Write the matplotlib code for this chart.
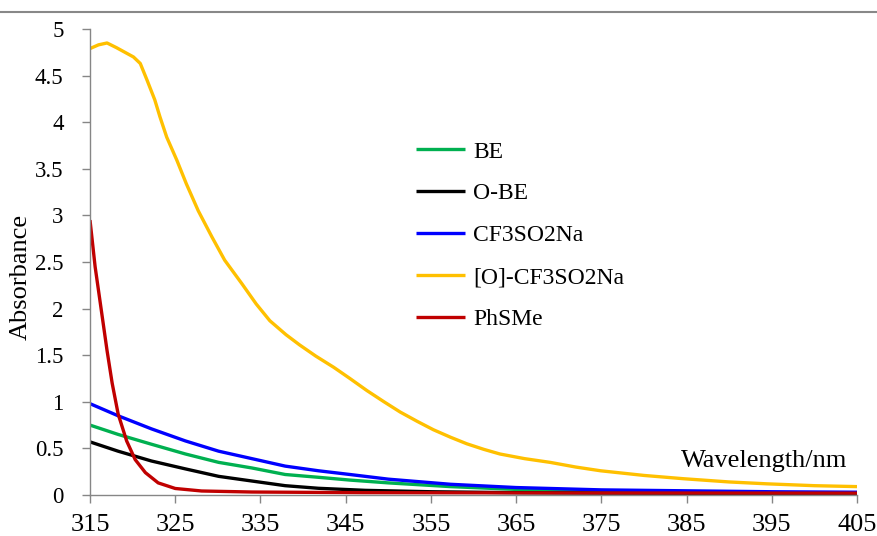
import numpy as np
import matplotlib.pyplot as plt
from matplotlib.lines import Line2D

plt.rcParams['font.family'] = ['Liberation Serif', 'DejaVu Serif']

# absorbance spectra, wavelength in nm
wl_o_cf = [315, 316, 317, 318.1, 319.1, 320.1, 320.9, 321.7, 322.6, 323.2, 324, 325.2,
           326.3, 327.7, 329.3, 330.8, 332.8, 334.5, 336.1, 338, 339.6, 341.5, 343.6,
           345.5, 347.5, 349.5, 351.4, 353.4, 355.3, 357.3, 359.2, 361.2, 363.1, 366,
           369, 372, 374.9, 380, 384.6, 390, 394.4, 400, 405]
abs_o_cf = [4.79, 4.83, 4.85, 4.80, 4.75, 4.70, 4.63, 4.45, 4.24, 4.06, 3.84, 3.59,
            3.34, 3.05, 2.77, 2.52, 2.27, 2.05, 1.87, 1.72, 1.61, 1.49, 1.37,
            1.25, 1.12, 1.00, 0.89, 0.79, 0.70, 0.62, 0.55, 0.49, 0.44, 0.39,
            0.35, 0.30, 0.26, 0.21, 0.175, 0.14, 0.12, 0.10, 0.09]

wl_phsme = [315, 315.6, 316.3, 317, 317.6, 318.3, 319.3, 320.3, 321.5, 323, 325,
            328.1, 334, 347, 370, 405]
abs_phsme = [2.95, 2.45, 2.0, 1.55, 1.2, 0.87, 0.58, 0.38, 0.24, 0.13, 0.07,
             0.043, 0.032, 0.025, 0.022, 0.02]

wl_cf = [315, 318.3, 322.2, 326.2, 330.1, 334, 337.9, 341.8, 345.5, 350, 357.3, 365,
         375, 385, 395, 405]
abs_cf = [0.98, 0.85, 0.71, 0.58, 0.47, 0.39, 0.31, 0.26, 0.22, 0.17, 0.115, 0.08,
          0.055, 0.045, 0.035, 0.03]

wl_be = [315, 318.3, 322.2, 326.2, 330.1, 334, 337.9, 341.8, 345.5, 350, 357.3, 365,
         375, 385, 395, 405]
abs_be = [0.75, 0.65, 0.545, 0.44, 0.35, 0.29, 0.22, 0.19, 0.16, 0.13, 0.09, 0.06,
          0.04, 0.03, 0.025, 0.02]

wl_obe = [315, 318.3, 322.2, 326.2, 330.1, 334, 337.9, 341.8, 347.3, 355, 365, 375,
          385, 395, 405]
abs_obe = [0.57, 0.47, 0.365, 0.28, 0.20, 0.15, 0.10, 0.072, 0.05, 0.035, 0.025, 0.02,
           0.018, 0.016, 0.015]

labels = ['BE', 'O-BE', 'CF3SO2Na', '[O]-CF3SO2Na', 'PhSMe']
colors = ['#00B050', '#000000', '#0000FF', '#FFC000', '#C00000']

fig = plt.figure(figsize=(8.77, 5.36), dpi=100)
ax = fig.add_axes([90/877, 1-495/536, 767/877, 466/536])

lw = 2.4
kw = dict(lw=lw, solid_joinstyle='round', solid_capstyle='butt')
ax.plot(wl_be, abs_be, color=colors[0], label=labels[0], **kw)
ax.plot(wl_obe, abs_obe, color=colors[1], label=labels[1], **kw)
ax.plot(wl_cf, abs_cf, color=colors[2], label=labels[2], **kw)
ax.plot(wl_o_cf, abs_o_cf, color=colors[3], label=labels[3], **kw)
ax.plot(wl_phsme, abs_phsme, color=colors[4], label=labels[4], **kw)

ax.set_xlim(315, 405)
ax.set_ylim(0, 5)
ax.set_xticks(np.arange(315, 406, 10))
ax.set_yticks(np.arange(0, 5.01, 0.5))
ax.set_yticklabels(['0', '0.5', '1', '1.5', '2', '2.5', '3', '3.5', '4', '4.5', '5'])
for s in ['top', 'right']:
    ax.spines[s].set_visible(False)
for s in ['left', 'bottom']:
    ax.spines[s].set_color('#868686')
    ax.spines[s].set_linewidth(1.0)
ax.tick_params(colors='#868686', labelcolor='black', length=6, width=1)
ax.tick_params(axis='x', labelsize=19, pad=8)
ax.tick_params(axis='y', labelsize=16.5, pad=13)

ax.set_ylabel('Absorbance', fontsize=19)
ax.yaxis.set_label_coords(-0.076, 0.467)
ax.text(0.988, 0.060, 'Wavelength/nm', transform=ax.transAxes, ha='right',
        va='baseline', fontsize=19)

leg = ax.legend(loc='upper left', bbox_to_anchor=(416/877, 1-141/536),
                bbox_transform=fig.transFigure, frameon=False, fontsize=17,
                handlelength=2.08, handletextpad=0.34, labelspacing=0.86,
                borderpad=0, borderaxespad=0)

fig.add_artist(Line2D([0, 1], [1-12/536, 1-12/536], color='#888888', lw=1.5,
                      transform=fig.transFigure))

fig.savefig('out.png', dpi=100)
